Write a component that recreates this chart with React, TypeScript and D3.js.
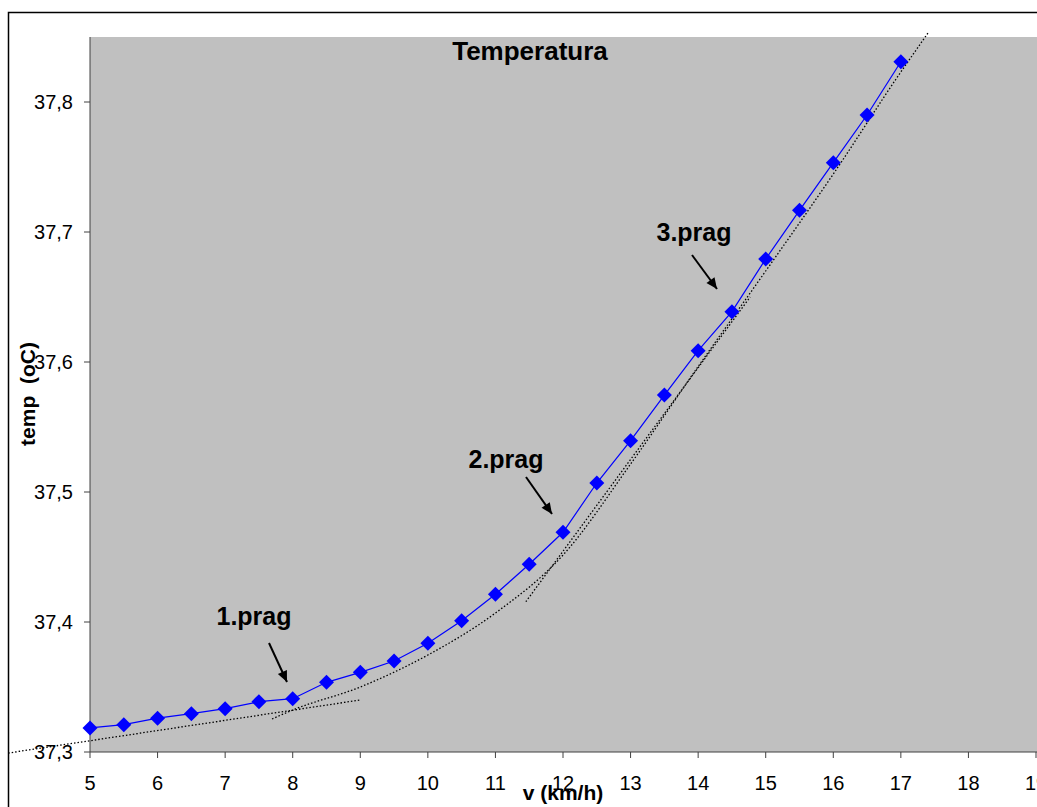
import React from "react";
import * as d3 from "d3";

const speeds = [5, 5.5, 6, 6.5, 7, 7.5, 8, 8.5, 9, 9.5, 10, 10.5, 11, 11.5, 12, 12.5, 13, 13.5, 14, 14.5, 15, 15.5, 16, 16.5, 17];
const temps = [37.3185, 37.321, 37.326, 37.3295, 37.3333, 37.3387, 37.341, 37.3536, 37.3613, 37.37, 37.3836, 37.401, 37.4213, 37.4444, 37.469, 37.5069, 37.5395, 37.5746, 37.6087, 37.6387, 37.6792, 37.7167, 37.7533, 37.79, 37.831];

// trend lines
const trendLowV = [3.79, 9.0];
const trendLowT = [37.2992, 37.34];
const trendCurveV = [7.694, 8, 9, 10, 11, 12, 13, 14, 15, 16, 17, 17.402];
const trendCurveT = [37.3254, 37.3323, 37.35, 37.3746, 37.4069, 37.4515, 37.5215, 37.5965, 37.67, 37.7446, 37.8231, 37.8531];
const trendMidV = [11.45, 14.77];
const trendMidT = [37.4156, 37.65];

const xTicks = [5, 6, 7, 8, 9, 10, 11, 12, 13, 14, 15, 16, 17, 18, 19];
const yTicks = [37.3, 37.4, 37.5, 37.6, 37.7, 37.8];

const annotations = [
  { label: "1.prag", tx: 254, ty: 625, x1: 269, y1: 643, x2: 287, y2: 682 },
  { label: "2.prag", tx: 506, ty: 468, x1: 526, y1: 477, x2: 552, y2: 514 },
  { label: "3.prag", tx: 694, ty: 241, x1: 692, y1: 255, x2: 717, y2: 289 },
];

const FONT = "'Liberation Sans', Arial, Helvetica, sans-serif";

export default function App() {
  const left = 90, right = 1036, top = 37, bottom = 752;
  const x = d3.scaleLinear().domain([5, 19]).range([left, right]);
  const y = d3.scaleLinear().domain([37.3, 37.85]).range([bottom, top]);

  const pts = speeds.map((v, i) => [v, temps[i]] as [number, number]);
  const line = d3.line<[number, number]>().x(d => x(d[0])).y(d => y(d[1]));
  const curve = d3.line<[number, number]>().x(d => x(d[0])).y(d => y(d[1])).curve(d3.curveMonotoneX);

  const lowPts = trendLowV.map((v, i) => [v, trendLowT[i]] as [number, number]);
  const curvePts = trendCurveV.map((v, i) => [v, trendCurveT[i]] as [number, number]);
  const midPts = trendMidV.map((v, i) => [v, trendMidT[i]] as [number, number]);

  const dotStyle = { fill: "none", stroke: "#000", strokeWidth: 1.3, strokeDasharray: "1.5 2" };

  const arrowHead = (a: typeof annotations[0]) => {
    const ang = Math.atan2(a.y2 - a.y1, a.x2 - a.x1);
    const len = 11, w = 5;
    const bx = a.x2 - len * Math.cos(ang), by = a.y2 - len * Math.sin(ang);
    const px = -Math.sin(ang) * w, py = Math.cos(ang) * w;
    return `M${a.x2},${a.y2}L${bx + px},${by + py}L${bx - px},${by - py}Z`;
  };

  return (
    <svg width={1037} height={807} style={{ position: "absolute", left: 0, top: 0, background: "#fff" }} fontFamily={FONT}>
      <rect x={8.5} y={12.5} width={1100} height={900} fill="#fff" stroke="#000" strokeWidth={1.5} />
      <rect x={left} y={top} width={1100} height={bottom - top} fill="#C0C0C0" />
      {/* axes */}
      <line x1={left} x2={left} y1={top} y2={bottom} stroke="#404040" strokeWidth={1} />
      <line x1={left} x2={1100} y1={bottom} y2={bottom} stroke="#404040" strokeWidth={1} />
      {yTicks.map(t => (
        <g key={"y" + t}>
          <line x1={left - 6} x2={left} y1={y(t)} y2={y(t)} stroke="#404040" />
          <text x={73} y={y(t) + 7} textAnchor="end" fontSize={20} fill="#000">{t.toFixed(1).replace(".", ",")}</text>
        </g>
      ))}
      {xTicks.map(v => (
        <g key={"x" + v}>
          <line x1={x(v)} x2={x(v)} y1={bottom} y2={bottom + 6} stroke="#404040" />
          <text x={x(v)} y={790} textAnchor="middle" fontSize={20} fill="#000">{v}</text>
        </g>
      ))}
      {/* trend lines */}
      <path d={line(lowPts) || ""} style={dotStyle} />
      <path d={curve(curvePts) || ""} style={dotStyle} />
      <path d={line(midPts) || ""} style={dotStyle} />
      {/* series */}
      <path d={line(pts) || ""} fill="none" stroke="#0000FF" strokeWidth={1.2} />
      {pts.map((p, i) => (
        <path key={i} d={`M${x(p[0])},${y(p[1]) - 7.5}L${x(p[0]) + 7.5},${y(p[1])}L${x(p[0])},${y(p[1]) + 7.5}L${x(p[0]) - 7.5},${y(p[1])}Z`} fill="#0000FF" />
      ))}
      {/* annotations */}
      {annotations.map(a => (
        <g key={a.label}>
          <text x={a.tx} y={a.ty} textAnchor="middle" fontSize={25} fontWeight="bold" fill="#000">{a.label}</text>
          <line x1={a.x1} y1={a.y1} x2={a.x2} y2={a.y2} stroke="#000" strokeWidth={2} />
          <path d={arrowHead(a)} fill="#000" />
        </g>
      ))}
      <text x={530} y={60} textAnchor="middle" fontSize={26} fontWeight="bold" fill="#000">Temperatura</text>
      <text x={563} y={800} textAnchor="middle" fontSize={21} fontWeight="bold" fill="#000">v (km/h)</text>
      <text transform="translate(35,394) rotate(-90)" textAnchor="middle" fontSize={21} fontWeight="bold" fill="#000" style={{ whiteSpace: "pre" }}>temp  (oC)</text>
    </svg>
  );
}
